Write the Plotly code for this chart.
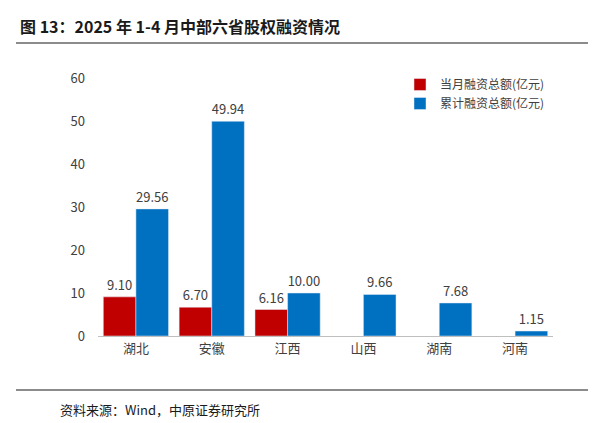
import plotly.graph_objects as go

categories = ["湖北", "安徽", "江西", "山西", "湖南", "河南"]
monthly = [9.10, 6.70, 6.16, None, None, None]
cumulative = [29.56, 49.94, 10.00, 9.66, 7.68, 1.15]

font = "Noto Sans CJK SC"
L, R, T, B = 90, 58, 70, 95
W, H = 603, 423
def py(ypx):
    return (H - B - ypx) / (H - T - B)
def px(xpx):
    return (xpx - L) / (W - L - R)

fig = go.Figure()
fig.add_bar(x=categories, y=monthly, name="当月融资总额(亿元)", marker_color="#C00000",
            text=[f"{v:.2f}" if v is not None else "" for v in monthly], textposition="outside",
            textfont=dict(size=13, color="#404040"), cliponaxis=False)
fig.add_bar(x=categories, y=cumulative, name="累计融资总额(亿元)", marker_color="#0070C0",
            text=[f"{v:.2f}" for v in cumulative], textposition="outside",
            textfont=dict(size=13, color="#404040"), cliponaxis=False)
fig.update_layout(
    width=W, height=H, paper_bgcolor="white", plot_bgcolor="white",
    margin=dict(l=L, r=R, t=T, b=B, autoexpand=False),
    barmode="group", bargap=0.14, bargroupgap=0.0,
    font=dict(family=font, size=12, color="#595959"),
    showlegend=True,
    legend=dict(x=px(392), y=py(62), xanchor="left", yanchor="top", bgcolor="rgba(0,0,0,0)",
                font=dict(size=12, color="#404040"), tracegroupgap=0, itemwidth=30),
    xaxis=dict(showline=True, linecolor="#BFBFBF", tickfont=dict(size=13, color="#404040"), ticks=""),
    yaxis=dict(range=[0, 60], dtick=10, showgrid=False, showline=False, zeroline=False,
               tickfont=dict(size=13, color="#404040"), ticklabelstandoff=12),
    annotations=[
        dict(text="<b>图 13：2025 年 1-4 月中部六省股权融资情况</b>", x=px(10), y=py(18),
             xref="paper", yref="paper", xanchor="left", yanchor="middle", showarrow=False,
             font=dict(size=16, color="#1a1a1a", family=font)),
        dict(text="资料来源：Wind，中原证券研究所", x=px(50), y=py(401),
             xref="paper", yref="paper", xanchor="left", yanchor="middle", showarrow=False,
             font=dict(size=13, color="#1a1a1a", family=font)),
    ],
    shapes=[
        dict(type="line", xref="paper", yref="paper", x0=px(8), x1=px(580), y0=py(35), y1=py(35), line=dict(color="#1a1a1a", width=1.2)),
        dict(type="line", xref="paper", yref="paper", x0=px(8), x1=px(580), y0=py(382), y1=py(382), line=dict(color="#1a1a1a", width=1.2)),
    ],
)
fig.write_html("out.html")
